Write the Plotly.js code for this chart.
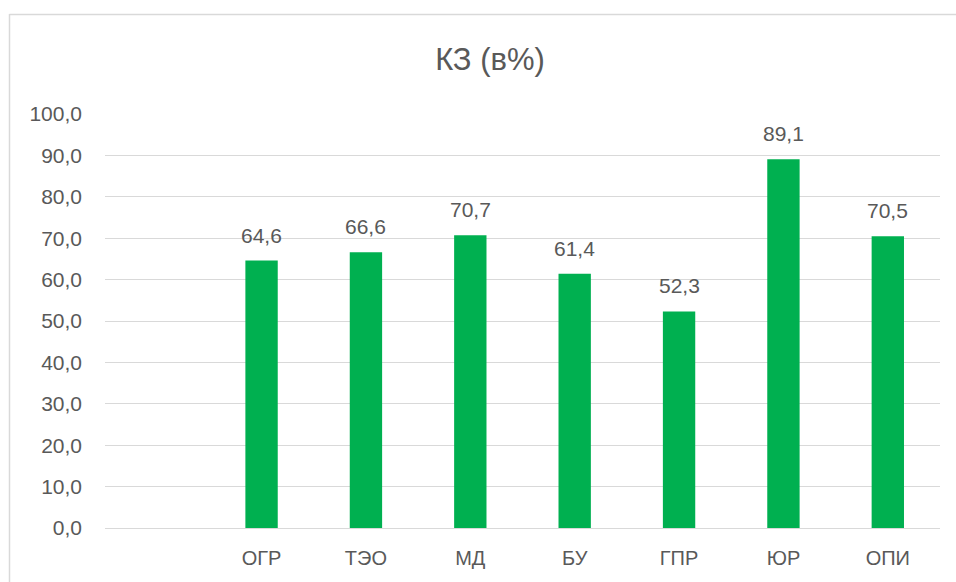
<!DOCTYPE html>
<html>
<head>
<meta charset="utf-8">
<script src="https://cdn.plot.ly/plotly-3.0.1.min.js"></script>
<style>
html,body{margin:0;padding:0;background:#fff;}
#chart{width:956px;height:582px;}
</style>
</head>
<body>
<div id="chart"></div>
<script>
const categories = ["", "ОГР", "ТЭО", "МД", "БУ", "ГПР", "ЮР", "ОПИ"];
const values = [null, 64.6, 66.6, 70.7, 61.4, 52.3, 89.1, 70.5];
const yTicks = [0, 10, 20, 30, 40, 50, 60, 70, 80, 90, 100];
const yTickLabels = yTicks.map(v => v.toFixed(1).replace('.', ','));
const titleText = "КЗ (в%)";

const fontFamily = "'Liberation Sans', Arial, sans-serif";
const textColor = "#595959";
const gridColor = "#d9d9d9";

const xKeys = categories.map((c, i) => "k" + i);

const trace = {
  type: "bar",
  x: xKeys,
  y: values,
  marker: {color: "#00B050"},
  hoverinfo: "none"
};

const annotations = values.map((v, i) => v === null ? null : ({
  x: xKeys[i], y: v, xref: "x", yref: "y",
  text: v.toFixed(1).replace('.', ','),
  showarrow: false, yanchor: "bottom", xanchor: "center", yshift: 12,
  font: {family: fontFamily, size: 21, color: textColor}
})).filter(a => a);

const L = 105, R = 940, T = 114, B = 528, W = 956, H = 582;
const pw = R - L, ph = B - T;
const px = x => (x - L) / pw;
const py = y => (B - y) / ph;

const layout = {
  width: W, height: H,
  margin: {l: L, r: W - R, t: T, b: H - B, pad: 0},
  paper_bgcolor: "#ffffff",
  plot_bgcolor: "#ffffff",
  showlegend: false,
  bargap: 0.69,
  title: {
    text: titleText,
    font: {family: fontFamily, size: 31, color: textColor},
    xref: "container", yref: "container",
    x: 490 / W, xanchor: "center",
    y: 1 - 59 / H, yanchor: "middle"
  },
  xaxis: {
    type: "category",
    tickmode: "array",
    tickvals: xKeys,
    ticktext: categories,
    tickfont: {family: fontFamily, size: 20, color: textColor},
    showgrid: false,
    zeroline: false,
    showline: false,
    ticks: "",
    ticklabelstandoff: 16,
    fixedrange: true
  },
  yaxis: {
    range: [0, 100],
    tickmode: "array",
    tickvals: yTicks,
    ticktext: yTickLabels,
    tickfont: {family: fontFamily, size: 21, color: textColor},
    showgrid: true,
    gridcolor: gridColor,
    gridwidth: 1,
    zeroline: true,
    zerolinecolor: gridColor,
    zerolinewidth: 1,
    showline: false,
    ticks: "",
    ticklabelstandoff: 22,
    fixedrange: true
  },
  annotations: annotations,
  shapes: [
    {type: "line", xref: "paper", yref: "paper", x0: px(9.5), x1: px(9.5), y0: py(14), y1: py(600),
     line: {color: gridColor, width: 1.5}},
    {type: "line", xref: "paper", yref: "paper", x0: px(9.5), x1: px(1000), y0: py(14.5), y1: py(14.5),
     line: {color: gridColor, width: 1.5}}
  ]
};

Plotly.newPlot("chart", [trace], layout, {staticPlot: true, displayModeBar: false});
</script>
</body>
</html>
